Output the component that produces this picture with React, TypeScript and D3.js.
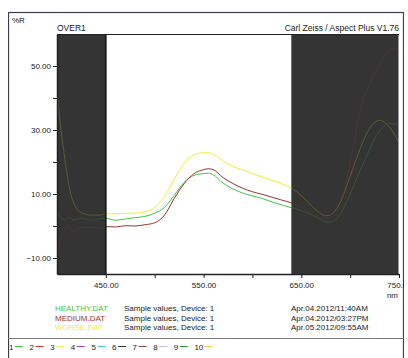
import React, { useEffect, useRef } from 'react'
import * as d3 from 'd3'

// sample grid (nm) shared by the three measurements
const wavelengths = [400, 402, 405, 408, 412, 418, 425, 435, 445, 450, 460, 470, 480, 490, 500, 510, 520, 530, 540, 550, 555, 560, 570, 580, 590, 600, 610, 620, 630, 640, 650, 660, 670, 675, 680, 690, 700, 710, 720, 730, 740, 750]
const healthy = [6, 3.5, 2.5, 2, 2.6, 1.9, 2.4, 1.8, 2.3, 2.4, 1.8, 2.2, 2.6, 3.0, 4.0, 5.8, 9.6, 13.6, 15.8, 16.4, 16.5, 16.0, 13.4, 11.6, 10.3, 9.4, 8.6, 7.5, 6.6, 5.7, 4.8, 3.6, 2.0, 1.3, 1.2, 3.8, 10.0, 17.3, 24, 29.8, 32, 31.7]
const medium = [-9.5, -7, -3, -1.2, -0.4, -1.9, -0.5, -0.4, -0.6, -0.2, -0.3, 0.1, 0.0, 0.4, 1.0, 3.4, 8.6, 13.2, 16.3, 17.6, 17.9, 17.6, 15.1, 13.3, 11.8, 10.7, 9.9, 9.0, 8.1, 7.2, 5.8, 4.2, 2.6, 2.5, 2.8, 7.0, 19.5, 36, 44.5, 50.5, 54.6, 55.8]
const worse = [43, 36, 28, 21, 13, 6.5, 4.2, 3.4, 3.4, 3.8, 3.8, 4.0, 4.0, 4.4, 5.8, 9.2, 14.6, 19.6, 22.2, 22.9, 22.9, 22.4, 20.4, 18.6, 17.5, 16.4, 15.3, 14.3, 13.2, 11.8, 9.5, 6.5, 3.8, 3.2, 3.5, 7.5, 15.5, 24, 30.5, 33, 31, 26]

const seriesNames = ['HEALTHY.DAT', 'MEDIUM.DAT', 'WORSE.DAT']
const seriesColors = ['#44c444', '#993333', '#eeee33']
const seriesInfo = ['Sample values, Device: 1', 'Sample values, Device: 1', 'Sample values, Device: 1']
const seriesDates = ['Apr.04.2012/11:40AM', 'Apr.04.2012/03:27PM', 'Apr.05.2012/09:55AM']

const xTicks = [450, 500, 550, 600, 650, 700, 750]
const xLabelled = [450, 550, 650, 750]
const yTicks = [-10, 0, 10, 20, 30, 40, 50]
const yLabelled = [-10, 10, 30, 50]

// masked (dark) wavelength ranges
const masks = [[400, 450], [640, 750]]

const footerNumbers = ['1', '2', '3', '4', '5', '6', '7', '8', '9', '10']
const footerColors = ['#44c444', '#cc3333', '#eeee44', '#aa44cc', '#44cccc', '#333333', '#884444', '#bbbbdd', '#339933', '#eecc44']

const font = '"Liberation Sans", Arial, sans-serif'

export default function App() {
    const ref = useRef<SVGSVGElement>(null)
    const width = 408
    const height = 358
    const margin = { top: 34, right: 9, bottom: 84, left: 57 }

    useEffect(() => {
        const root = d3.select(ref.current)
        root.selectAll('*').remove()
        const innerWidth = width - margin.left - margin.right
        const innerHeight = height - margin.top - margin.bottom

        const x = d3.scaleLinear().domain([400, 750]).range([0, innerWidth])
        const y = d3.scaleLinear().domain([-15, 60]).range([innerHeight, 0])

        const defs = root.append('defs')
        defs.append('clipPath').attr('id', 'plotclip')
            .append('rect').attr('width', innerWidth).attr('height', innerHeight)
        defs.append('clipPath').attr('id', 'boxclip')
            .append('rect').attr('x', 8).attr('y', 0).attr('width', 396).attr('height', height)

        const outer = root.append('g').attr('clip-path', 'url(#boxclip)')

        outer.append('rect')
            .attr('x', 8.5).attr('y', 12.5).attr('width', 395).attr('height', 360)
            .attr('fill', 'none').attr('stroke', '#3c3c50').attr('stroke-width', 1.2)

        outer.append('text').attr('x', 12).attr('y', 23).text('%R')
            .attr('font-size', 8).attr('fill', '#222').style('font-family', font)
        outer.append('text').attr('x', 57).attr('y', 31).text('OVER1')
            .attr('font-size', 8.5).attr('fill', '#222').style('font-family', font)
        outer.append('text').attr('x', 399).attr('y', 31).attr('text-anchor', 'end')
            .text('Carl Zeiss / Aspect Plus V1.76')
            .attr('font-size', 8.5).attr('fill', '#222').style('font-family', font)

        const svg = outer.append('g').attr('transform', `translate(${margin.left},${margin.top})`)

        svg.append('rect').attr('width', innerWidth).attr('height', innerHeight).attr('fill', '#fff')

        svg.selectAll('.mask')
            .data(masks)
            .enter().append('rect')
            .attr('class', 'mask')
            .attr('x', d => x(d[0]))
            .attr('width', d => x(d[1]) - x(d[0]))
            .attr('y', 0).attr('height', innerHeight)
            .attr('fill', '#353535')

        const all = [healthy, medium, worse]
        const line = d3.line<number>()
            .x((d, i) => x(wavelengths[i]))
            .y(d => y(d))
            .curve(d3.curveMonotoneX)

        svg.append('g').attr('clip-path', 'url(#plotclip)')
            .selectAll('path')
            .data(all)
            .enter().append('path')
            .attr('d', d => line(d))
            .attr('fill', 'none')
            .attr('stroke', (d, i) => seriesColors[i])
            .attr('stroke-width', 1)

        // dim the curves inside the masked ranges
        svg.selectAll('.dim')
            .data(masks)
            .enter().append('rect')
            .attr('class', 'dim')
            .attr('x', d => x(d[0]))
            .attr('width', d => x(d[1]) - x(d[0]))
            .attr('y', 0).attr('height', innerHeight)
            .attr('fill', '#353535')
            .attr('opacity', 0.8)

        svg.append('line')
            .attr('x1', x(450)).attr('x2', x(450))
            .attr('y1', 0).attr('y2', innerHeight)
            .attr('stroke', '#111').attr('stroke-width', 1.5)
        svg.append('line')
            .attr('x1', innerWidth - 0.5).attr('x2', innerWidth - 0.5)
            .attr('y1', 0).attr('y2', innerHeight)
            .attr('stroke', '#999').attr('stroke-width', 1)
        svg.append('line')
            .attr('x1', 0).attr('x2', innerWidth)
            .attr('y1', 0.5).attr('y2', 0.5)
            .attr('stroke', '#222').attr('stroke-width', 1)

        const xAxis = svg.append('g')
            .attr('transform', `translate(0,${innerHeight})`)
            .call(d3.axisBottom(x).tickValues(xTicks).tickSize(4).tickSizeOuter(0)
                .tickFormat(d => xLabelled.includes(+d) ? d3.format('.2f')(+d) : ''))
        xAxis.select('.domain').attr('stroke', '#222').attr('stroke-width', 1.5)
        xAxis.selectAll('line').attr('stroke', '#222')
        xAxis.selectAll('text').attr('font-size', 8).attr('fill', '#222').attr('dy', '0.9em')
            .style('font-family', font)

        const yAxis = svg.append('g')
            .call(d3.axisLeft(y).tickValues(yTicks).tickSize(4).tickSizeOuter(0)
                .tickFormat(d => yLabelled.includes(+d) ? d3.format('.2f')(+d) : ''))
        yAxis.select('.domain').attr('stroke', '#222').attr('stroke-width', 1.5)
        yAxis.selectAll('line').attr('stroke', '#222')
        yAxis.selectAll('text').attr('font-size', 8).attr('fill', '#222').attr('x', -6)
            .style('font-family', font)

        outer.append('text').attr('x', 398).attr('y', 298).attr('text-anchor', 'end').text('nm')
            .attr('font-size', 8).attr('fill', '#222').style('font-family', font)

        const legend = outer.selectAll('.legend')
            .data(seriesNames)
            .enter().append('g')
            .attr('class', 'legend')
            .attr('transform', (d, i) => `translate(0,${311 + i * 9.5})`)
            .style('font-family', font)
            .attr('font-size', 8)
        legend.append('text').attr('x', 55).text(d => d).attr('fill', (d, i) => seriesColors[i])
        legend.append('text').attr('x', 124).text((d, i) => seriesInfo[i]).attr('fill', '#222')
        legend.append('text').attr('x', 291).text((d, i) => seriesDates[i]).attr('fill', '#222')

        outer.append('line')
            .attr('x1', 8).attr('x2', 404).attr('y1', 338.5).attr('y2', 338.5)
            .attr('stroke', '#777').attr('stroke-width', 1)

        const footer = outer.selectAll('.foot')
            .data(footerNumbers)
            .enter().append('g')
            .attr('class', 'foot')
            .attr('transform', (d, i) => `translate(${9 + i * 20.6},349.5)`)
        footer.append('text').text(d => d)
            .attr('font-size', 8).attr('fill', '#222').style('font-family', font)
        footer.append('line')
            .attr('x1', (d, i) => i === 9 ? 10 : 6).attr('x2', (d, i) => i === 9 ? 18 : 14)
            .attr('y1', -3).attr('y2', -3)
            .attr('stroke', (d, i) => footerColors[i]).attr('stroke-width', 1)
    }, [])

    return (
        <div>
            <svg ref={ref} width={width} height={height}
                style={{ position: 'absolute', left: 0, top: 0, background: '#fff' }}></svg>
        </div>
    )
}
